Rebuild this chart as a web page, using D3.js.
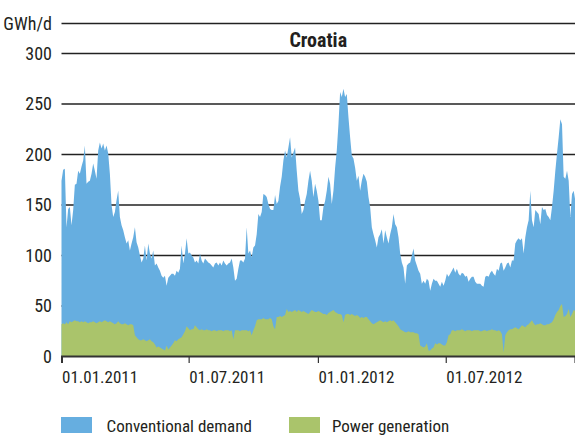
<html>
<meta charset="utf-8">
<script src="https://cdn.jsdelivr.net/npm/d3@7"></script>
<style>
  body { margin: 0; background: #fff; }
  text { font-family: "Liberation Sans Narrow", "Roboto Condensed", "DejaVu Sans Condensed", sans-serif; fill: #231f20; }
</style>
<body>
<svg id="chart" width="575" height="435"></svg>
<script>

// daily values, one sample every 57 hours from 01.01.2011
var sampleStart = new Date(2011, 0, 1)
var sampleStepHours = 57

var demand = [
  174,185,186,128,146,148,130,145,170,171, 184,181,188,194,209,171,173,174,181,191,
  184,176,204,212,206,211,204,209,201,181, 150,138,143,155,164,138,130,125,118,112,
  115,105,112,118,128,113,108,100,93,97, 110,95,112,102,97,105,90,92,88,85,
  80,78,80,70,78,80,82,82,80,85, 83,87,110,92,102,117,102,103,100,98,
  93,95,92,102,95,92,97,95,93,92, 90,88,92,93,90,93,90,95,92,90,
  92,93,97,88,75,77,87,95,95,93, 97,128,102,105,98,108,110,121,141,138,
  143,161,160,158,151,146,145,145,160,151, 154,168,178,194,204,197,207,217,197,202,
  207,184,164,156,141,145,154,161,174,184, 174,158,171,164,154,135,
  135,148,154,164,178,171,151,164,187,204, 230,262,257,265,257,260,237,217,199,196,
  187,174,179,164,174,181,178,173,158,148, 128,121,115,108,118,121,126,112,125,118,
  112,121,128,141,131,128,118,102,93,88, 72,90,92,93,100,107,95,90,85,82,
  72,75,72,77,75,65,72,77,75,75, 72,69,74,70,75,82,79,
  82,85,88,83,87,82,80,83,82,79, 80,74,77,79,79,74,72,72,72,70,
  69,79,80,79,83,85,82,80,87,85, 92,93,85,88,92,93,88,95,95,112,
  115,117,115,117,102,118,128,135,164,135, 128,145,143,141,131,148,145,146,140,138,
  135,148,164,184,201,217,235,230,178,176, 184,174,138,161,164,154
]

var generation = [
  32,33,32,34,32, 35,34,35,36,35,35,34,35,34,35, 34,33,34,34,35,34,33,34,
  35,34,35,36,35,34,35,34,33, 32,33,35,33,32,32,33,32,31,32,32,31,
  21,19,17,16,16,17,16,15,16,17,15,14,12,9,10,9,8,7,6,11,7,9,11,13,16,15,17,18,19,22,25,30,28,26,27,27,
  31,29,27,26,27,26,26,27,26,26, 25,26,26,25,26,26,26,25,26,26,
  26,25,26,17,26,26,26,25,26,26, 26,26,25,26,21,26,30,36,37,37,
  37,38,37,37,37,38,37,30,27,39, 39,40,39,40,41,47,44,45,44,45,
  46,44,46,45,44,45,44,43,42,44, 46,45,44,44,45,44,
  43,42,42,41,43,44,45,46,44,43, 42,42,41,34,41,42,42,41,42,41,
  40,41,40,38,39,38,39,39,37,35, 33,32,33,34,35,36,35,34,35,34,
  35,36,35,36,34,32,30,27,26,25, 24,24,25,24,24,24,23,23,22,11,
  10,9,10,13,6,6,8,9,13,12, 13,13,12,11,11,14,21,
  22,26,26,25,26,26,26,27,26,25, 26,26,26,25,26,26,26,26,25,25,
  26,26,25,26,26,27,26,26,25,26, 25,22,4,21,24,26,27,27,28,29,
  28,27,29,31,30,29,31,32,34,36, 33,31,32,32,33,32,31,31,32,32,
  33,34,37,41,44,46,50,52,39,40, 42,47,39,42,46,45
]

var yTicks = [0, 50, 100, 150, 200, 250, 300]
var xTicks = [new Date(2011,0,1), new Date(2011,6,1), new Date(2012,0,1), new Date(2012,6,1), new Date(2013,0,1)]
var seriesNames = ["Conventional demand", "Power generation"]
var seriesColours = ["#66aee0", "#aac46b"]
var title = "Croatia"
var unit = "GWh/d"

var leftX = 61.5, rightX = 575, topY = 23.5

var rows = demand.map(function(d, i){
  return {date: d3.timeHour.offset(sampleStart, i * sampleStepHours), demand: d, gen: generation[i]}
})

var svg = d3.select("#chart")

var x = d3.scaleTime().domain([xTicks[0], xTicks[4]]).range([leftX, rightX])
var y = d3.scaleLinear().domain([0, 300]).range([356.5, 53.5])

// grid lines (behind the areas)
svg.append("line").attr("x1", leftX).attr("x2", rightX).attr("y1", topY).attr("y2", topY)
  .attr("stroke", "#222").attr("stroke-width", 1.3)
svg.selectAll(".grid").data(yTicks.slice(1)).enter().append("line")
  .attr("x1", leftX).attr("x2", rightX)
  .attr("y1", function(d){ return y(d) }).attr("y2", function(d){ return y(d) })
  .attr("stroke", "#222").attr("stroke-width", 1.3)

var areaDemand = d3.area().x(function(d){ return x(d.date) }).y0(y(0)).y1(function(d){ return y(d.demand) })
var areaGen = d3.area().x(function(d){ return x(d.date) }).y0(y(0)).y1(function(d){ return y(d.gen) })

svg.append("path").datum(rows).attr("d", areaDemand).attr("fill", seriesColours[0])
svg.append("path").datum(rows).attr("d", areaGen).attr("fill", seriesColours[1])

// y labels
svg.selectAll(".ylab").data(yTicks).enter().append("text")
  .attr("x", 52).attr("y", function(d){ return y(d) + 6 })
  .attr("text-anchor", "end").style("font-size", "18px")
  .text(function(d){ return d })
svg.append("text").attr("x", 52).attr("y", topY + 6).attr("text-anchor", "end")
  .style("font-size", "18px").text(unit)

// title
svg.append("text").attr("x", (leftX + rightX) / 2).attr("y", 46.5).attr("text-anchor", "middle")
  .style("font-size", "20px").style("font-weight", "bold").text(title)

// x axis
var xAxis = d3.axisBottom(x).tickValues(xTicks).tickSize(7).tickPadding(8)
  .tickFormat(function(d){ return d < xTicks[4] ? d3.timeFormat("%d.%m.%Y")(d) : "" })
var gx = svg.append("g").attr("transform", "translate(0,356)").call(xAxis)
gx.select(".domain").attr("stroke", "#333").attr("stroke-width", 2)
gx.selectAll(".tick line").attr("stroke", "#333").attr("stroke-width", 1.2)
gx.selectAll(".tick text").attr("text-anchor", "start").attr("x", 0)
  .style("font-size", "17px").attr("fill", "#231f20")
gx.attr("font-family", null).attr("font-size", null)

// legend
var legendX = [61, 289]
var leg = svg.selectAll(".leg").data(seriesNames).enter().append("g")
  .attr("transform", function(d, i){ return "translate(" + legendX[i] + ",417)" })
leg.append("rect").attr("width", 31).attr("height", 16).attr("fill", function(d, i){ return seriesColours[i] })
leg.append("text").attr("x", function(d, i){ return i == 0 ? 45.5 : 43 }).attr("y", 15)
  .style("font-size", "17px").text(function(d){ return d })

</script>
</body>
</html>
